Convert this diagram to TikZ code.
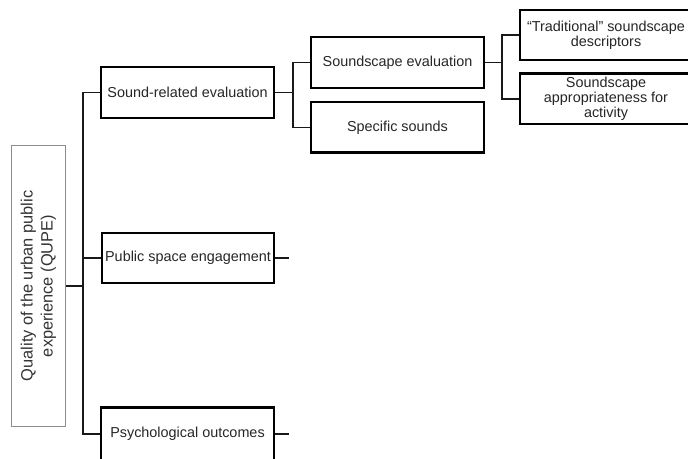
\documentclass[tikz,border=0pt]{standalone}
\usepackage{fontspec}
\setmainfont{Liberation Sans}
\usepackage{tikz}
\usetikzlibrary{positioning, shadows}
\tikzstyle{Box} = [
    draw,
    line width = 2.4pt,
    fill = white,
    text = black!85,
    font = \fontsize{14.4}{15}\selectfont,
    align = center,
    minimum width = 172.5pt,
    minimum height = 50.5pt,
    drop shadow = {shadow xshift=1pt, shadow yshift=-1pt, opacity=1, fill=black}
]

\begin{document}
\begin{tikzpicture}[
x = 1pt, y = -1pt,
Link/.style = {line width = 1.5pt, black!90},
Root/.style = {
    draw = black!45,
    line width = 0.7pt,
    rotate = 90,
    minimum width = 281pt,
    minimum height = 54pt,
    align = center,
    text = black!80,
    font = \fontsize{16.4}{20}\selectfont
    }
]

\useasboundingbox (0,0) rectangle (688,458);

\node [Root] (0) at (38.5,286) {Quality of the urban public\\experience (QUPE)};

\node [Box] (1) at (187.5,92.5) {Sound-related evaluation};
\node [Box] (2) at (188,258) {Public space engagement};
\node [Box, minimum height = 53pt] (3) at (187.5,434) {Psychological outcomes};

\node [Box] (11) at (397.5,62.5) {Soundscape evaluation};
\node [Box, below = 12pt of 11] (12) {Specific sounds};

\node [Box] (111) at (606,35) {“Traditional” soundscape\\descriptors};
\node [Box, below = 11pt of 111] (112) {Soundscape\\appropriateness for\\activity};

\coordinate [right = 14pt of 2] (2r);
\coordinate [right = 14pt of 3] (3r);

\draw[Link] (0.south) -- ++(17,0) |- (1.west);
\draw[Link] (0.south) -- ++(17,0) |- (2.west);
\draw[Link] (0.south) -- ++(17,0) |- (3.west);

\draw[Link] (1.east) -- ++(18,0) |- (11.west);
\draw[Link] (1.east) -- ++(18,0) |- (12.west);

\draw[Link] (11.east) -- ++(17,0) |- (111.west);
\draw[Link] (11.east) -- ++(17,0) |- (112.west);

\draw[Link] (2.east) -- (2r);
\draw[Link] (3.east) -- (3r);

\end{tikzpicture}
\end{document}
